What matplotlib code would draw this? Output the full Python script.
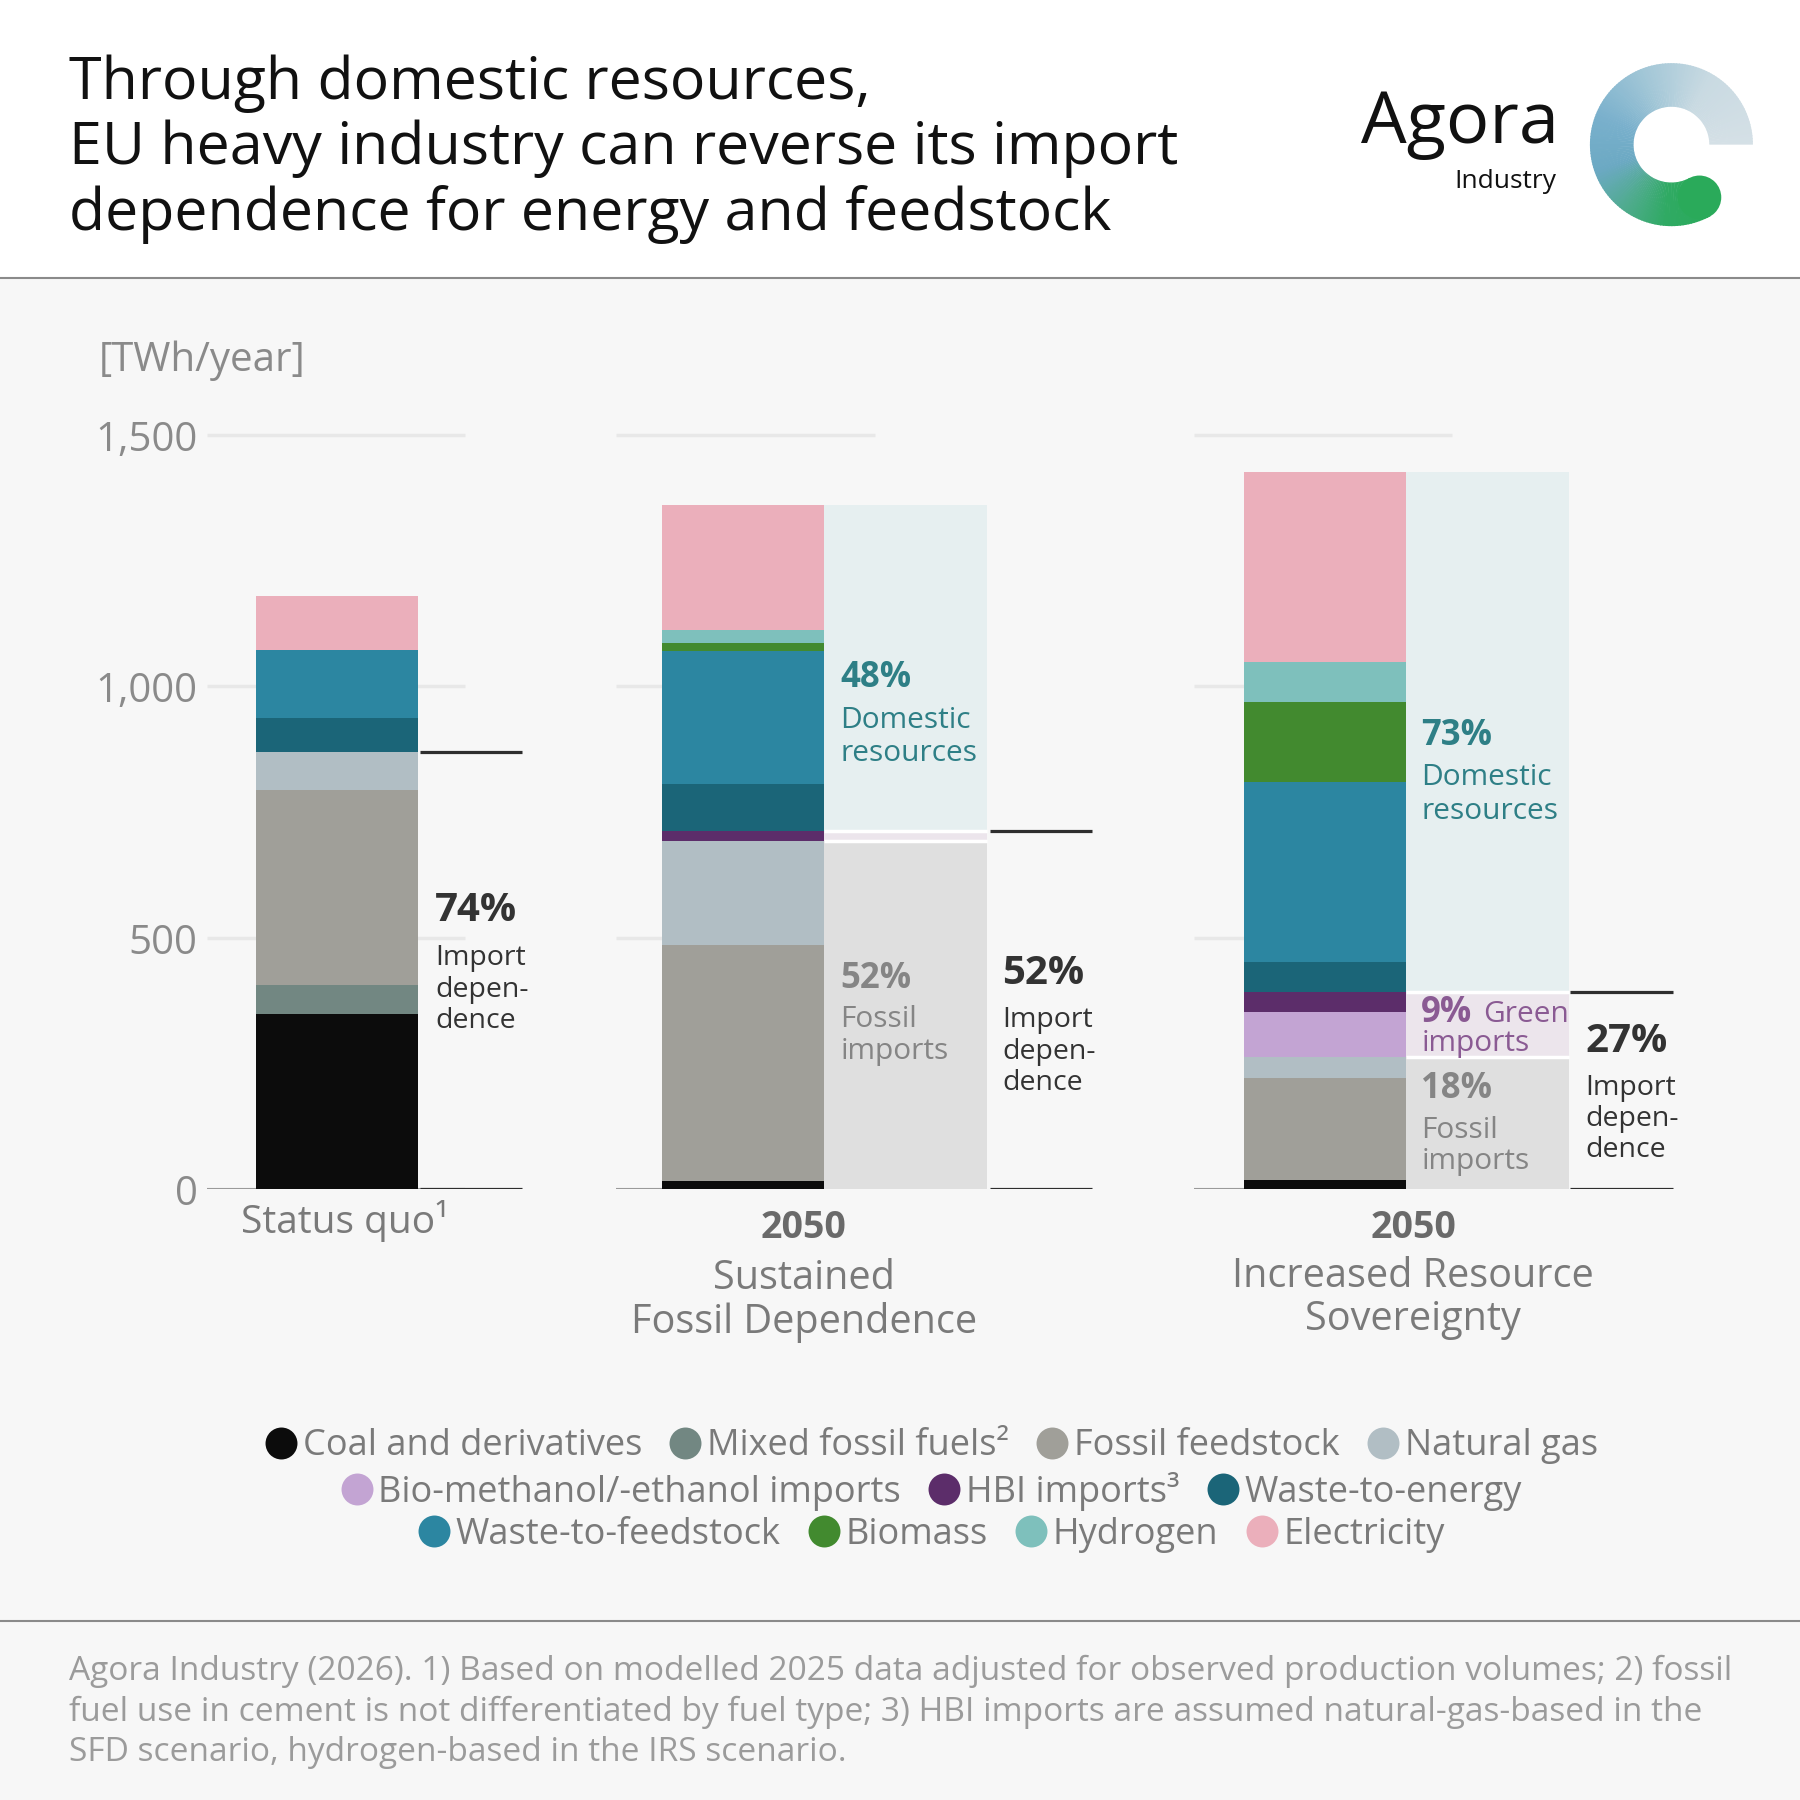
import matplotlib.pyplot as plt
import numpy as np
from matplotlib.lines import Line2D
from matplotlib.patches import Rectangle, Wedge, Circle
from matplotlib.colors import to_rgb
from matplotlib.transforms import offset_copy

plt.rcParams['font.family'] = ['Open Sans', 'DejaVu Sans']

# TWh/year per scenario: Status quo, SFD 2050, IRS 2050
coal = [349, 16, 18]
mixed_fossil = [57, 0, 0]
fossil_feedstock = [388, 470, 203]
natural_gas = [76, 206, 42]
bio_methanol = [0, 0, 89]
hbi_imports = [0, 20, 41]
waste_energy = [68, 94, 59]
waste_feedstock = [135, 265, 358]
biomass = [0, 16, 160]
hydrogen = [0, 25, 78]
electricity = [107, 249, 379]

series_names = ['Coal and derivatives', 'Mixed fossil fuels\u00b2', 'Fossil feedstock',
                'Natural gas', 'Bio-methanol/-ethanol imports', 'HBI imports\u00b3',
                'Waste-to-energy', 'Waste-to-feedstock', 'Biomass', 'Hydrogen', 'Electricity']
series_values = [coal, mixed_fossil, fossil_feedstock, natural_gas, bio_methanol,
                 hbi_imports, waste_energy, waste_feedstock, biomass, hydrogen, electricity]
series_colors = ['#0c0c0c', '#728782', '#a09f99', '#b1bec4', '#c3a4d3', '#5c2d6a',
                 '#1b6578', '#2c86a1', '#428a2f', '#7ec0bc', '#ebafbb']

yticks = [0, 500, 1000, 1500]
ytick_labels = ['0', '500', '1,000', '1,500']

BG = '#f7f7f7'
S = 1568.0  # layout was measured on a 1568 px view


def fx(x):
    return x / S


def fy(y):
    return 1 - y / S


fig = plt.figure(figsize=(18, 18), dpi=100, facecolor=BG)

# header band and separators
fig.patches.append(Rectangle((0, fy(242)), 1, 1 - fy(242), transform=fig.transFigure,
                             facecolor='white', edgecolor='none', zorder=-5))
for yy in (242, 1412):
    fig.add_artist(Line2D([0, 1], [fy(yy), fy(yy)], color='#8a8a8a', lw=1.5))

# main axes: x in layout px, y in TWh
px_per_twh = 657 / 1500
ax = fig.add_axes([0, fy(1036), 1, 1550 * px_per_twh / S])
ax.set_xlim(0, S)
ax.set_ylim(0, 1550)
ax.axis('off')
ax.patch.set_alpha(0)

groups = [(180, 405), (537, 762), (1040, 1265)]
bar_x = [293.5, 647, 1154]
panel_x = [None, 789, 1295.5]
bar_w = 141
panel_w = 142
bracket_x = [(366, 455), (862, 951), (1368, 1457)]

for g0, g1 in groups:
    ax.hlines(yticks[1:], g0, g1, color='#e8e8e8', lw=2.5, zorder=1)
    ax.hlines(0, g0, g1, color='#9a9a9a', lw=1.5, zorder=1)

tick_tr = offset_copy(ax.transData, fig=fig, x=0, y=-4, units='points')
for v, lab in zip(yticks, ytick_labels):
    ax.text(172, v, lab, ha='right', va='center', fontsize=29, color='#8a8a8a',
            transform=tick_tr)

bottom = np.zeros(3)
for vals, col in zip(series_values, series_colors):
    vals = np.array(vals, dtype=float)
    ax.bar(bar_x, vals, width=bar_w, bottom=bottom, color=col, edgecolor='none', zorder=2)
    bottom += vals
totals = bottom

fossil = np.array(coal) + np.array(mixed_fossil) + np.array(fossil_feedstock) + np.array(natural_gas)
green = np.array(bio_methanol) + np.array(hbi_imports)
domestic = totals - fossil - green
imports = fossil + green

for i in (1, 2):
    ax.bar(panel_x[i], fossil[i], width=panel_w, bottom=0, color='#dfdfdf',
           edgecolor='none', zorder=2)
    ax.bar(panel_x[i], green[i], width=panel_w, bottom=fossil[i], color='#ece5ec',
           edgecolor='none', zorder=2)
    ax.bar(panel_x[i], domestic[i], width=panel_w, bottom=imports[i], color='#e6eff0',
           edgecolor='none', zorder=2)
    ax.hlines([fossil[i], imports[i]], panel_x[i] - panel_w / 2, panel_x[i] + panel_w / 2,
              color='white', lw=2.5, zorder=3)

for (b0, b1), lvl in zip(bracket_x, imports):
    ax.hlines([0, lvl], b0, b1, color='#2e2e2e', lw=2.3, zorder=3)

# annotations
dark, teal, grey, purple = '#333333', '#2e7f86', '#858585', '#8a5a93'


def note(x, y, s, color, size, bold=False, ls=1.15):
    fig.text(fx(x), fy(y), s, ha='left', va='center', color=color, fontsize=size,
             fontweight='bold' if bold else 'normal', linespacing=ls)


note(379, 793, '74%', dark, 29, True)
note(379, 862, 'Import\ndepen-\ndence', dark, 20.5)
note(732, 591, '48%', teal, 25, True)
note(732, 642, 'Domestic\nresources', teal, 21.5, ls=1.2)
note(732, 853, '52%', grey, 25, True)
note(732, 902, 'Fossil\nimports', grey, 21.5, ls=1.1)
note(873, 848, '52%', dark, 29, True)
note(873, 916, 'Import\ndepen-\ndence', dark, 20.5)
note(1238, 641, '73%', teal, 25, True)
note(1238, 692, 'Domestic\nresources', teal, 21.5, ls=1.2)
note(1238, 882, '9%', purple, 25, True)
note(1292, 884, 'Green', purple, 21.5)
note(1238, 909, 'imports', purple, 21.5)
note(1238, 949, '18%', grey, 25, True)
note(1238, 998, 'Fossil\nimports', grey, 21.5, ls=1.1)
note(1381, 907, '27%', dark, 29, True)
note(1381, 975, 'Import\ndepen-\ndence', dark, 20.5)

# category labels
cat_col = '#7a7a7a'
fig.text(fx(300), fy(1064), 'Status quo\u00b9', ha='center', va='center', fontsize=28, color=cat_col)
fig.text(fx(700), fy(1070), '2050', ha='center', va='center', fontsize=27,
         fontweight='bold', color='#6a6a6a')
fig.text(fx(700), fy(1133), 'Sustained\nFossil Dependence', ha='center', va='center',
         fontsize=28.5, color=cat_col, linespacing=1.1)
fig.text(fx(1231), fy(1070), '2050', ha='center', va='center', fontsize=27,
         fontweight='bold', color='#6a6a6a')
fig.text(fx(1231), fy(1131), 'Increased Resource\nSovereignty', ha='center', va='center',
         fontsize=28.5, color=cat_col, linespacing=1.1)

fig.text(fx(86), fy(314), '[TWh/year]', ha='left', va='center', fontsize=29, color='#8a8a8a')

# title
for yy, line in zip((68, 125, 182), ['Through domestic resources,',
                                     'EU heavy industry can reverse its import',
                                     'dependence for energy and feedstock']):
    fig.text(fx(60), fy(yy + 5), line, ha='left', va='center', fontsize=42.6, color='#111111')

# legend, three centered rows
rows = [[0, 1, 2, 3], [4, 5, 6], [7, 8, 9, 10]]
for yy, idx in zip((1260, 1299, 1337), rows):
    handles = [Line2D([], [], marker='o', ls='none', markersize=23,
                      markerfacecolor=series_colors[k], markeredgecolor='none') for k in idx]
    leg = fig.legend(handles, [series_names[k] for k in idx], loc='center',
                     bbox_to_anchor=(fx(812), fy(yy)), ncol=len(idx), frameon=False,
                     fontsize=26, handlelength=0.8, handletextpad=0.2,
                     columnspacing=0.8, borderpad=0)
    for t in leg.get_texts():
        t.set_color('#7a7a7a')

# footer
foot = ['Agora Industry (2026). 1) Based on modelled 2025 data adjusted for observed production volumes; 2) fossil',
        'fuel use in cement is not differentiated by fuel type; 3) HBI imports are assumed natural-gas-based in the',
        'SFD scenario, hydrogen-based in the IRS scenario.']
for yy, line in zip((1456, 1492, 1527), foot):
    fig.text(fx(60), fy(yy), line, ha='left', va='center', fontsize=24.1, color='#9b9b9b')

# logo
fig.text(fx(1358), fy(108), 'Agora', ha='right', va='center', fontsize=52, color='#111111')
fig.text(fx(1356), fy(158), 'Industry', ha='right', va='center', fontsize=19, color='#111111')

lax = fig.add_axes([fx(1456 - 80), fy(126 + 80), 160 / S, 160 / S])
lax.set_xlim(-80, 80)
lax.set_ylim(-80, 80)
lax.set_aspect('equal')
lax.axis('off')
stops_a = [0, 60, 110, 160, 200, 235, 265, 298]
stops_c = ['#d5e0e6', '#c9dae2', '#a3c7d7', '#79b0cc', '#6ca9c3', '#4eab8c', '#30aa64', '#2aaa5a']
stops_rgb = np.array([to_rgb(c) for c in stops_c])
angles = np.linspace(0, 298, 150)
for a0, a1 in zip(angles[:-1], angles[1:]):
    am = (a0 + a1) / 2
    col = [np.interp(am, stops_a, stops_rgb[:, k]) for k in range(3)]
    lax.add_patch(Wedge((0, 0), 71, a0, a1 + 0.6, width=38, facecolor=col, edgecolor='none'))
# rounded tail end of the ring
tail = np.deg2rad(298)
lax.add_patch(Circle((52 * np.cos(tail), 52 * np.sin(tail)), 19, facecolor=stops_c[-1],
                     edgecolor='none'))

fig.savefig('out.png', dpi=100, facecolor=BG)
